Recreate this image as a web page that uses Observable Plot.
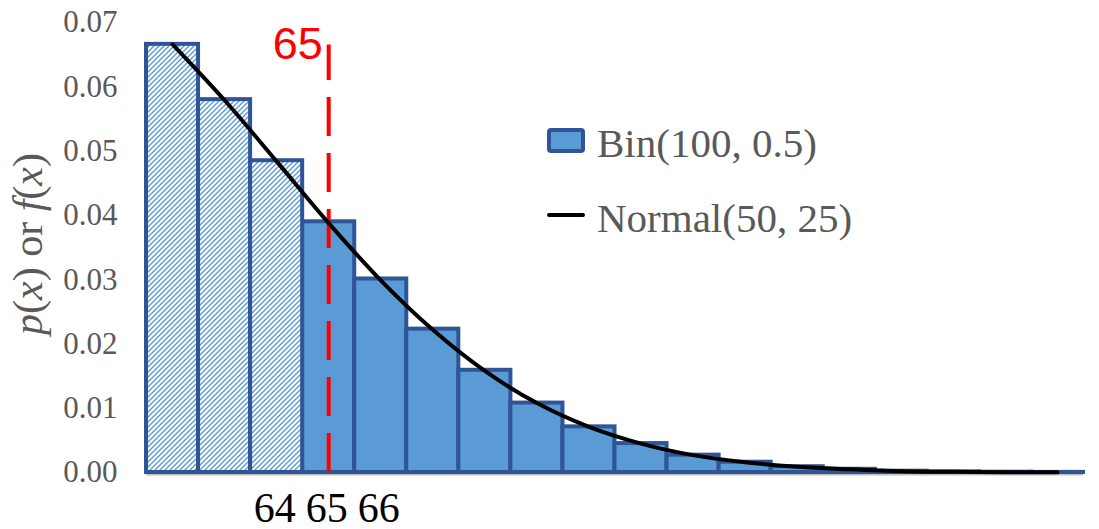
<!DOCTYPE html>
<html>
<head>
<meta charset="utf-8">
<script src="https://cdn.jsdelivr.net/npm/d3@7"></script>
<script src="https://cdn.jsdelivr.net/npm/@observablehq/plot@0.6"></script>
<style>
  html, body { margin: 0; padding: 0; background: #fff; }
  #chart svg { display: block; }
</style>
</head>
<body>
<div id="chart"></div>
<script>
// ---- data ----
const xValues = [62, 63, 64, 65, 66, 67, 68, 69, 70, 71, 72, 73, 74, 75, 76, 77, 78, 79];
const binomP  = [0.0666, 0.0580, 0.0485, 0.0390, 0.0301, 0.0223, 0.0159, 0.0108, 0.0071, 0.0045, 0.0027, 0.0016, 0.0009, 0.0005, 0.0002, 0.0001, 0.00005, 0.00002];
const normalF = [0.0666, 0.0579, 0.0484, 0.0388, 0.0299, 0.0222, 0.0158, 0.0108, 0.0071, 0.0045, 0.0027, 0.0016, 0.0009, 0.0005, 0.0002, 0.0001, 0.00005, 0.00002];
const hatchedX = [62, 63, 64];
const cutoffX = [65];
const cutoffTop = [0.0665];
const cutoffLabel = ["65"];
const yTicks = [0, 0.01, 0.02, 0.03, 0.04, 0.05, 0.06, 0.07];
const xTicks = [64, 65, 66];
const legendLabels = ["Bin(100, 0.5)", "Normal(50, 25)"];

const bars = xValues.map((x, i) => ({x, p: binomP[i], hatched: hatchedX.includes(x)}));
const curve = xValues.map((x, i) => ({x, f: normalF[i]}));

const blue = "#5B9BD5", darkBlue = "#2F5597", gray = "#595959";
const serif = "'Liberation Serif', 'Times New Roman', serif";

const svg = Plot.plot({
  width: 1099,
  height: 529,
  marginLeft: 146,
  marginRight: 16,
  marginTop: 22,
  marginBottom: 57,
  style: {fontFamily: serif, background: "#fff"},
  x: {domain: [61.5, 79.5], axis: null},
  y: {domain: [0, 0.07], axis: null},
  marks: [
    Plot.ruleY([0], {stroke: "#BFBFBF", strokeWidth: 2, dy: 2}),
    Plot.rectY(bars.filter(d => !d.hatched), {x1: d => d.x - 0.5, x2: d => d.x + 0.5, y: "p", fill: blue, stroke: darkBlue, strokeWidth: 4}),
    Plot.rectY(bars.filter(d => d.hatched), {x1: d => d.x - 0.5, x2: d => d.x + 0.5, y: "p", fill: "url(#hatch)", stroke: darkBlue, strokeWidth: 4}),
    Plot.ruleX(cutoffX, {x: d => d, y1: 0, y2: cutoffTop[0], stroke: "#FF0000", strokeWidth: 4, strokeDasharray: "39,17"}),
    Plot.line(curve, {x: "x", y: "f", stroke: "#000", strokeWidth: 4, curve: "monotone-x"}),
    Plot.text(cutoffLabel, {x: cutoffX, y: cutoffTop, text: d => d, fill: "#FF0000", fontSize: 45, fontFamily: "'Liberation Sans', Arial, sans-serif", textAnchor: "end", lineAnchor: "middle", dx: -6, dy: 0}),
    Plot.axisY({ticks: yTicks, tickFormat: d3.format(".2f"), tickSize: 0, tickPadding: 29, fontSize: 31, fill: gray, label: null}),
    Plot.axisX({ticks: xTicks, tickFormat: d => String(d), tickSize: 0, tickPadding: 20, fontSize: 42, fill: "#000", label: null, dx: -2})
  ]
});

// hatch pattern
const sel = d3.select(svg);
const defs = sel.insert("defs", ":first-child");
const pat = defs.append("pattern")
  .attr("id", "hatch").attr("patternUnits", "userSpaceOnUse")
  .attr("width", 5).attr("height", 5);
pat.append("rect").attr("width", 5).attr("height", 5).attr("fill", "#fff");
pat.append("path").attr("d", "M-1,1 l2,-2 M0,5 l5,-5 M4,6 l2,-2")
  .attr("stroke", blue).attr("stroke-width", 1.4);

// y-axis title with italic parts
const yl = sel.append("text")
  .attr("transform", "translate(42,244) rotate(-90)")
  .attr("text-anchor", "middle")
  .attr("font-size", 42).attr("fill", gray)
  .attr("font-family", serif);
[["p", true], ["(", false], ["x", true], [") or ", false], ["f", true], ["(", false], ["x", true], [")", false]]
  .forEach(([t, it]) => yl.append("tspan").attr("font-style", it ? "italic" : "normal").text(t));

// legend
const lg = sel.append("g").attr("font-family", serif).attr("font-size", 41).attr("fill", gray).attr("text-anchor", "start");
lg.append("rect").attr("x", 549).attr("y", 130).attr("width", 34).attr("height", 21).attr("rx", 2)
  .attr("fill", blue).attr("stroke", darkBlue).attr("stroke-width", 4);
lg.append("text").attr("x", 597).attr("y", 157).attr("text-anchor", "start").text(legendLabels[0]);
lg.append("line").attr("x1", 549).attr("x2", 583).attr("y1", 215).attr("y2", 215)
  .attr("stroke", "#000").attr("stroke-width", 4).attr("stroke-linecap", "round");
lg.append("text").attr("x", 597).attr("y", 232).attr("text-anchor", "start").text(legendLabels[1]);

document.getElementById("chart").appendChild(svg);
</script>
</body>
</html>
